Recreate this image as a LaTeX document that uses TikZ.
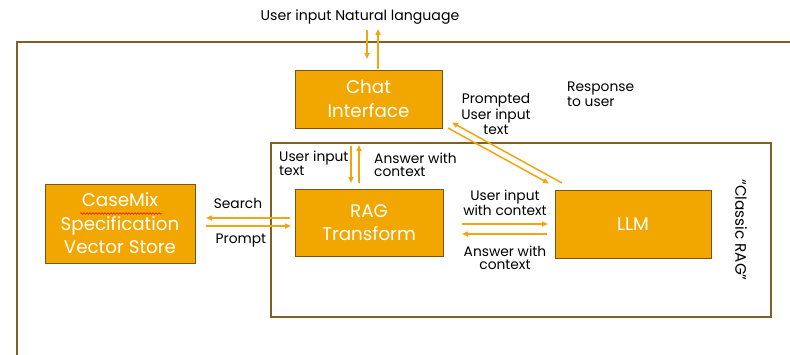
\documentclass[tikz,border=0pt]{standalone}
\usepackage{fontspec}
\setmainfont{Poppins}
\usetikzlibrary{arrows.meta,decorations.pathmorphing}
\definecolor{boxfill}{HTML}{F2A700}
\definecolor{boxedge}{HTML}{7A5418}
\definecolor{arrowc}{HTML}{F0A512}
\definecolor{framec}{HTML}{7F6128}
\tikzset{
  block/.style={draw=boxedge, line width=0.8pt, fill=boxfill, text=white,
    align=center, inner sep=0pt, font=\fontsize{18.3}{23.5}\selectfont},
  frame/.style={draw=framec, line width=1.6pt},
  arr/.style={draw=arrowc, line width=1.5pt, -{Triangle[length=6pt,width=5pt]}},
  lbl/.style={align=center, inner sep=0pt, font=\fontsize{13.8}{15.5}\selectfont},
  tightlbl/.style={lbl, font=\fontsize{13.8}{13}\selectfont},
}
\begin{document}
\begin{tikzpicture}[x=1pt,y=-1pt]
\useasboundingbox (0,0) rectangle (790,354);
\fill[white] (0,0) rectangle (790,354);

% outer system boundary (open to the right and bottom)
\draw[frame] (800,42) -- (17,42) -- (17,360);

% "Classic RAG" region
\node[draw=framec, line width=1.2pt, minimum width=500pt, minimum height=174pt, inner sep=0pt]
  (classic) at (521,230) {};
\node[rotate=-90, font=\fontsize{15.2}{17}\selectfont, inner sep=0pt] (classiclbl) at (741,230) {“Classic RAG”};

% main blocks
\node[block, minimum width=147pt, minimum height=58pt] (chat) at (368.5,99) {Chat\\Interface};
\node[block, minimum width=148pt, minimum height=67pt] (rag) at (369,222.5) {RAG\\Transform};
\node[block, minimum width=156pt, minimum height=68pt] (llm) at (633,224) {LLM};
\node[block, minimum width=150pt, minimum height=79pt] (store) at (120,223.5) {CaseMix\\Specification\\Vector Store};
\draw[red, line width=0.5pt, decorate, decoration={snake, amplitude=0.8pt, segment length=3pt}]
  (80,213.5) -- (162,213.5);

% user entry
\node[lbl, font=\fontsize{14.1}{16}\selectfont] (user) at (360,17) {User input Natural language};
\coordinate (uin0) at (367,30);  \coordinate (uin1) at (367,59);
\coordinate (uout0) at (378,69); \coordinate (uout1) at (378,29);
\draw[arr] (uin0) -- (uin1);
\draw[arr] (uout0) -- (uout1);

% chat <-> RAG transform
\coordinate (rin0) at (351,146);  \coordinate (rin1) at (351,183);
\coordinate (rout0) at (359,183); \coordinate (rout1) at (359,145);
\draw[arr] (rin0) -- (rin1);
\draw[arr] (rout0) -- (rout1);
\node[tightlbl, align=left, anchor=west, font=\fontsize{13.8}{12}\selectfont] (uitext) at (279,163) {User input\\text};
\node[tightlbl, align=left, anchor=west] (awc1) at (374,164.5) {Answer with\\context};

% chat <-> LLM
\coordinate (c2l0) at (448,128); \coordinate (c2l1) at (549,183.5);
\coordinate (l2c0) at (562,183); \coordinate (l2c1) at (452,122.5);
\draw[arr] (c2l0) -- (c2l1);
\draw[arr] (l2c0) -- (l2c1);
\node[lbl] (prompted) at (496,114) {Prompted\\User input\\text};
\node[lbl, align=left, anchor=west] (resp) at (567,94) {Response\\to user};

% RAG transform <-> vector store
\coordinate (s0) at (290,218); \coordinate (s1) at (206,218);
\coordinate (p0) at (206,226); \coordinate (p1) at (291,226);
\draw[arr] (s0) -- (s1);
\draw[arr] (p0) -- (p1);
\node[lbl] (search) at (238,203) {Search};
\node[lbl] (prompt) at (241,240) {Prompt};

% RAG transform <-> LLM
\coordinate (q0) at (462,224); \coordinate (q1) at (548,224);
\coordinate (a0) at (547,234); \coordinate (a1) at (462,234);
\draw[arr] (q0) -- (q1);
\draw[arr] (a0) -- (a1);
\node[tightlbl, font=\fontsize{13.8}{14}\selectfont] (uiwc) at (505,203) {User input\\with context};
\node[tightlbl] (awc2) at (505,257.5) {Answer with\\context};
\end{tikzpicture}
\end{document}
